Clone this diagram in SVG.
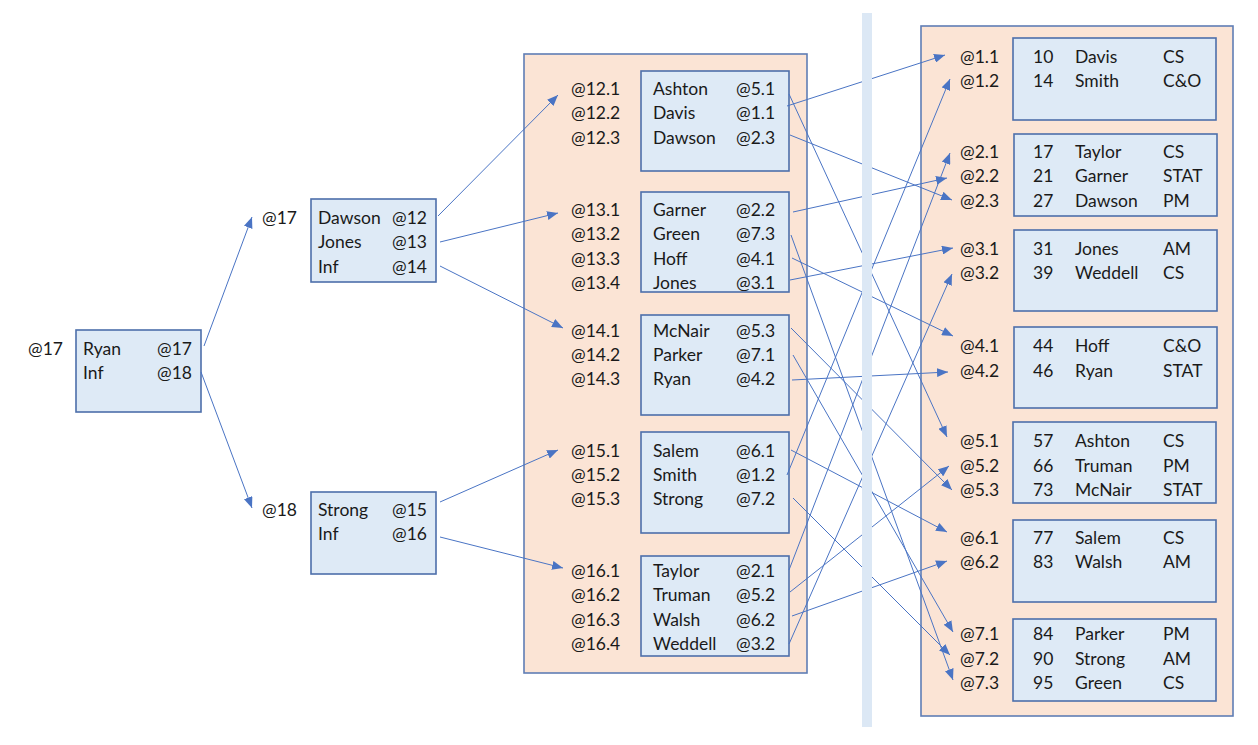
<svg xmlns="http://www.w3.org/2000/svg" width="1258" height="745" viewBox="0 0 1258 745">
<defs>
<style>
text{font-family:Lato,"Open Sans","Liberation Sans",sans-serif;font-size:17.5px;fill:#1a1a1a}
.box{fill:#DEEAF6;stroke:#4D6FAB;stroke-width:1.6}
.cont{fill:#FBE4D5;stroke:#5F7DB5;stroke-width:1.6}
.ln{stroke:#4A74C4;stroke-width:1;fill:none;marker-end:url(#ah)}
</style>
<marker id="ah" markerUnits="userSpaceOnUse" markerWidth="11" markerHeight="9" refX="11" refY="4.5" orient="auto">
<path d="M0,0 L11,4.5 L0,9 z" fill="#4A74C4"/>
</marker>
</defs>
<rect width="1258" height="745" fill="#fff"/>

<g id="root">
<text x="28" y="355">@17</text>
<rect class="box" x="76" y="330" width="125" height="82"/>
<text x="83" y="355">Ryan</text><text x="157" y="355">@17</text>
<text x="83" y="379">Inf</text><text x="157" y="379">@18</text>
</g>

<g id="n17">
<text x="262" y="224">@17</text>
<rect class="box" x="311" y="199" width="125" height="83"/>
<text x="318" y="224">Dawson</text><text x="392" y="224">@12</text>
<text x="318" y="248">Jones</text><text x="392" y="248">@13</text>
<text x="318" y="273">Inf</text><text x="392" y="273">@14</text>
</g>

<g id="n18">
<text x="262" y="516">@18</text>
<rect class="box" x="311" y="492" width="125" height="82"/>
<text x="318" y="516">Strong</text><text x="392" y="516">@15</text>
<text x="318" y="540">Inf</text><text x="392" y="540">@16</text>
</g>

<g id="middle">
<rect class="cont" x="524" y="54" width="283" height="619"/>
<g id="n12">
<rect class="box" x="641" y="71" width="148" height="100"/>
<text x="571" y="95">@12.1</text><text x="653" y="95">Ashton</text><text x="736" y="95">@5.1</text>
<text x="571" y="119">@12.2</text><text x="653" y="119">Davis</text><text x="736" y="119">@1.1</text>
<text x="571" y="144">@12.3</text><text x="653" y="144">Dawson</text><text x="736" y="144">@2.3</text>
</g>
<g id="n13">
<rect class="box" x="641" y="192" width="148" height="100"/>
<text x="571" y="216">@13.1</text><text x="653" y="216">Garner</text><text x="736" y="216">@2.2</text>
<text x="571" y="240">@13.2</text><text x="653" y="240">Green</text><text x="736" y="240">@7.3</text>
<text x="571" y="265">@13.3</text><text x="653" y="265">Hoff</text><text x="736" y="265">@4.1</text>
<text x="571" y="289">@13.4</text><text x="653" y="289">Jones</text><text x="736" y="289">@3.1</text>
</g>
<g id="n14">
<rect class="box" x="641" y="315" width="148" height="100"/>
<text x="571" y="337">@14.1</text><text x="653" y="337">McNair</text><text x="736" y="337">@5.3</text>
<text x="571" y="361">@14.2</text><text x="653" y="361">Parker</text><text x="736" y="361">@7.1</text>
<text x="571" y="385">@14.3</text><text x="653" y="385">Ryan</text><text x="736" y="385">@4.2</text>
</g>
<g id="n15">
<rect class="box" x="641" y="432" width="148" height="101"/>
<text x="571" y="457">@15.1</text><text x="653" y="457">Salem</text><text x="736" y="457">@6.1</text>
<text x="571" y="481">@15.2</text><text x="653" y="481">Smith</text><text x="736" y="481">@1.2</text>
<text x="571" y="505">@15.3</text><text x="653" y="505">Strong</text><text x="736" y="505">@7.2</text>
</g>
<g id="n16">
<rect class="box" x="641" y="556" width="148" height="100"/>
<text x="571" y="577">@16.1</text><text x="653" y="577">Taylor</text><text x="736" y="577">@2.1</text>
<text x="571" y="601">@16.2</text><text x="653" y="601">Truman</text><text x="736" y="601">@5.2</text>
<text x="571" y="626">@16.3</text><text x="653" y="626">Walsh</text><text x="736" y="626">@6.2</text>
<text x="571" y="650">@16.4</text><text x="653" y="650">Weddell</text><text x="736" y="650">@3.2</text>
</g>
</g>

<g id="right">
<rect class="cont" x="921" y="26" width="312" height="690"/>
<g id="n1">
<rect class="box" x="1013" y="38" width="203" height="82"/>
<text x="960" y="63">@1.1</text><text x="1033" y="63">10</text><text x="1075" y="63">Davis</text><text x="1163" y="63">CS</text>
<text x="960" y="87">@1.2</text><text x="1033" y="87">14</text><text x="1075" y="87">Smith</text><text x="1163" y="87">C&amp;O</text>
</g>
<g id="n2">
<rect class="box" x="1014" y="134" width="203" height="82"/>
<text x="960" y="158">@2.1</text><text x="1033" y="158">17</text><text x="1075" y="158">Taylor</text><text x="1163" y="158">CS</text>
<text x="960" y="182">@2.2</text><text x="1033" y="182">21</text><text x="1075" y="182">Garner</text><text x="1163" y="182">STAT</text>
<text x="960" y="207">@2.3</text><text x="1033" y="207">27</text><text x="1075" y="207">Dawson</text><text x="1163" y="207">PM</text>
</g>
<g id="n3">
<rect class="box" x="1014" y="230" width="203" height="81"/>
<text x="960" y="255">@3.1</text><text x="1033" y="255">31</text><text x="1075" y="255">Jones</text><text x="1163" y="255">AM</text>
<text x="960" y="279">@3.2</text><text x="1033" y="279">39</text><text x="1075" y="279">Weddell</text><text x="1163" y="279">CS</text>
</g>
<g id="n4">
<rect class="box" x="1014" y="327" width="203" height="81"/>
<text x="960" y="352">@4.1</text><text x="1033" y="352">44</text><text x="1075" y="352">Hoff</text><text x="1163" y="352">C&amp;O</text>
<text x="960" y="377">@4.2</text><text x="1033" y="377">46</text><text x="1075" y="377">Ryan</text><text x="1163" y="377">STAT</text>
</g>
<g id="n5">
<rect class="box" x="1013" y="422" width="203" height="81"/>
<text x="960" y="447">@5.1</text><text x="1033" y="447">57</text><text x="1075" y="447">Ashton</text><text x="1163" y="447">CS</text>
<text x="960" y="472">@5.2</text><text x="1033" y="472">66</text><text x="1075" y="472">Truman</text><text x="1163" y="472">PM</text>
<text x="960" y="496">@5.3</text><text x="1033" y="496">73</text><text x="1075" y="496">McNair</text><text x="1163" y="496">STAT</text>
</g>
<g id="n6">
<rect class="box" x="1013" y="520" width="203" height="82"/>
<text x="960" y="544">@6.1</text><text x="1033" y="544">77</text><text x="1075" y="544">Salem</text><text x="1163" y="544">CS</text>
<text x="960" y="568">@6.2</text><text x="1033" y="568">83</text><text x="1075" y="568">Walsh</text><text x="1163" y="568">AM</text>
</g>
<g id="n7">
<rect class="box" x="1013" y="619" width="203" height="82"/>
<text x="960" y="640">@7.1</text><text x="1033" y="640">84</text><text x="1075" y="640">Parker</text><text x="1163" y="640">PM</text>
<text x="960" y="665">@7.2</text><text x="1033" y="665">90</text><text x="1075" y="665">Strong</text><text x="1163" y="665">AM</text>
<text x="960" y="689">@7.3</text><text x="1033" y="689">95</text><text x="1075" y="689">Green</text><text x="1163" y="689">CS</text>
</g>
</g>

<g id="connectors">
<line class="ln" x1="204" y1="346" x2="252" y2="217"/>
<line class="ln" x1="201" y1="372" x2="252" y2="508"/>
<line class="ln" x1="438" y1="216" x2="558" y2="95"/>
<line class="ln" x1="440" y1="242" x2="558" y2="213"/>
<line class="ln" x1="440" y1="266" x2="563" y2="328"/>
<line class="ln" x1="440" y1="502" x2="558" y2="450"/>
<line class="ln" x1="440" y1="537" x2="563" y2="568"/>

<line class="ln" x1="789" y1="94" x2="947" y2="437"/>
<line class="ln" x1="787" y1="106" x2="945" y2="55"/>
<line class="ln" x1="790" y1="135" x2="952" y2="200"/>
<line class="ln" x1="793" y1="212" x2="947" y2="178"/>
<line class="ln" x1="791" y1="235" x2="953" y2="680"/>
<line class="ln" x1="792" y1="258" x2="953" y2="336"/>
<line class="ln" x1="790" y1="280" x2="953" y2="248"/>
<line class="ln" x1="791" y1="328" x2="952" y2="490"/>
<line class="ln" x1="793" y1="355" x2="953" y2="632"/>
<line class="ln" x1="792" y1="380" x2="948" y2="372"/>
<line class="ln" x1="791" y1="450" x2="947" y2="532"/>
<line class="ln" x1="787" y1="475" x2="950" y2="79"/>
<line class="ln" x1="793" y1="498" x2="950" y2="655"/>
<line class="ln" x1="789" y1="570" x2="950" y2="153"/>
<line class="ln" x1="790" y1="592" x2="949" y2="466"/>
<line class="ln" x1="792" y1="616" x2="947" y2="561"/>
<line class="ln" x1="789" y1="644" x2="952" y2="274"/>
</g>

<rect id="divider" x="862" y="13" width="10" height="714" fill="#DCE8F5"/>
</svg>
